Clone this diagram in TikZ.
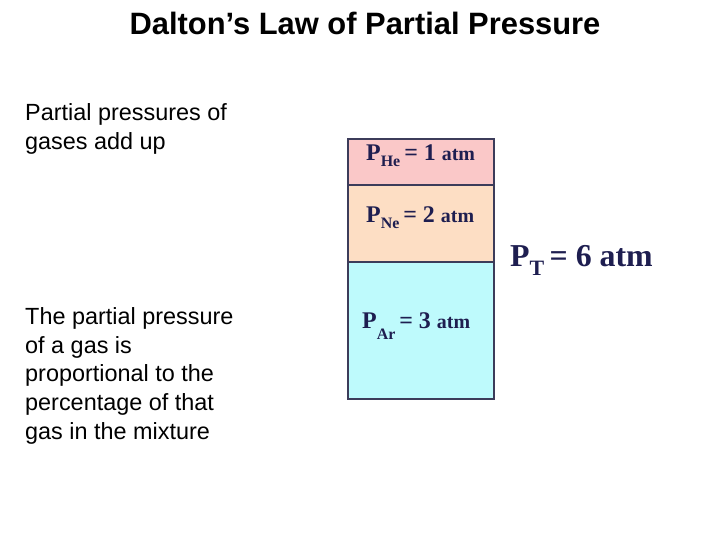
\documentclass[tikz,border=0pt]{standalone}
\usepackage{fontspec}
\setmainfont{Liberation Sans}
\newfontfamily\serifb{Liberation Serif}
\definecolor{navy}{RGB}{30,30,80}
\definecolor{hecol}{RGB}{250,200,200}
\definecolor{necol}{RGB}{253,222,196}
\definecolor{arcol}{RGB}{190,250,252}
\definecolor{edge}{RGB}{60,60,90}
\tikzset{body/.style={anchor=north west,align=left,font=\fontsize{23.5}{29}\selectfont,inner sep=0pt},
 lab/.style={text=navy,font=\serifb\bfseries\fontsize{24}{24}\selectfont,inner sep=0pt},
 cell/.style={draw=edge,line width=1.2bp}}
\begin{document}
\begin{tikzpicture}[x=1bp,y=-1bp]
\useasboundingbox (0,0) rectangle (720,540);
\node (title) at (365,23) {\bfseries\fontsize{31}{34}\selectfont Dalton’s Law of Partial Pressure};
\node[body] (t1) at (25,103) {Partial pressures of\\gases add up};
\node[body] (t2) at (25,307) {The partial pressure\\of a gas is\\proportional to the\\percentage of that\\gas in the mixture};
\filldraw[cell,fill=hecol] (348,139) rectangle (494,185);
\filldraw[cell,fill=necol] (348,185) rectangle (494,262);
\filldraw[cell,fill=arcol] (348,262) rectangle (494,399);
\node[lab,anchor=west] (he) at (366,156) {P\raisebox{-6bp}{\fontsize{16}{16}\selectfont He}\,= 1 {\fontsize{20}{20}\selectfont atm}};
\node[lab,anchor=west] (ne) at (366,218) {P\raisebox{-6bp}{\fontsize{16}{16}\selectfont Ne}\,= 2 {\fontsize{20}{20}\selectfont atm}};
\node[lab,anchor=west] (ar) at (362,326) {P\raisebox{-11bp}{\fontsize{16}{16}\selectfont Ar}\,= 3 {\fontsize{20}{20}\selectfont atm}};
\node[lab,anchor=west,font=\serifb\bfseries\fontsize{32}{32}\selectfont] (pt) at (510,260) {P\raisebox{-9bp}{\fontsize{22}{22}\selectfont T}\,= 6 atm};
\end{tikzpicture}
\end{document}
